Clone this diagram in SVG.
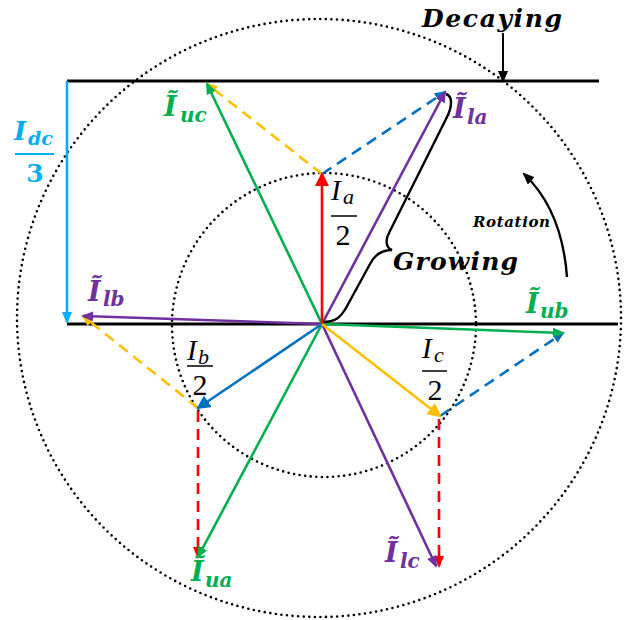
<svg xmlns="http://www.w3.org/2000/svg" width="625" height="620" viewBox="0 0 625 620">
<style>
.dot{fill:none;stroke:#000;stroke-width:2.6;stroke-dasharray:0 5.6;stroke-linecap:round}
.axis{stroke:#000;stroke-width:3;fill:none}
.v{fill:none;stroke-width:2.6}
.d{fill:none;stroke-width:2.6;stroke-dasharray:11 7}
.g{stroke:#00B050}.p{stroke:#7030A0}.b{stroke:#0070C0}.y{stroke:#FFC000}.r{stroke:#FF0000}.c{stroke:#00B0F0}.k{stroke:#000}
.lbl{font-family:"DejaVu Serif",serif;font-weight:bold;font-style:italic}
.big{font-size:27px}.sub{font-size:20px}
.m{font-family:"Liberation Serif",serif;font-style:italic;fill:#000}
.num{font-family:"Liberation Serif",serif;fill:#000;font-size:30px;text-anchor:middle}
.word{font-family:"DejaVu Serif",serif;font-weight:bold;font-style:italic;fill:#000}
</style>
<defs>
<marker id="hR" markerUnits="userSpaceOnUse" markerWidth="16" markerHeight="16" refX="12" refY="7" orient="auto"><path d="M0,0 L14,7 L0,14 z" fill="#FF0000"/></marker>
<marker id="hB" markerUnits="userSpaceOnUse" markerWidth="16" markerHeight="16" refX="12" refY="7" orient="auto"><path d="M0,0 L14,7 L0,14 z" fill="#0070C0"/></marker>
<marker id="hY" markerUnits="userSpaceOnUse" markerWidth="16" markerHeight="16" refX="12" refY="7" orient="auto"><path d="M0,0 L14,7 L0,14 z" fill="#FFC000"/></marker>
<marker id="sG" markerUnits="userSpaceOnUse" markerWidth="14" markerHeight="12" refX="10" refY="5" orient="auto"><path d="M0,0 L12,5 L0,10 z" fill="#00B050"/></marker>
<marker id="sP" markerUnits="userSpaceOnUse" markerWidth="14" markerHeight="12" refX="10" refY="5" orient="auto"><path d="M0,0 L12,5 L0,10 z" fill="#7030A0"/></marker>
<marker id="sB" markerUnits="userSpaceOnUse" markerWidth="14" markerHeight="12" refX="10" refY="5" orient="auto"><path d="M0,0 L12,5 L0,10 z" fill="#0070C0"/></marker>
<marker id="sR" markerUnits="userSpaceOnUse" markerWidth="14" markerHeight="12" refX="10" refY="5" orient="auto"><path d="M0,0 L12,5 L0,10 z" fill="#FF0000"/></marker>
<marker id="sY" markerUnits="userSpaceOnUse" markerWidth="14" markerHeight="12" refX="10" refY="5" orient="auto"><path d="M0,0 L12,5 L0,10 z" fill="#FFC000"/></marker>
<marker id="sC" markerUnits="userSpaceOnUse" markerWidth="14" markerHeight="12" refX="10" refY="5" orient="auto"><path d="M0,0 L12,5 L0,10 z" fill="#00B0F0"/></marker>
<marker id="sK" markerUnits="userSpaceOnUse" markerWidth="14" markerHeight="12" refX="10" refY="5" orient="auto"><path d="M0,0 L12,5 L0,10 z" fill="#000"/></marker>
</defs>
<rect width="625" height="620" fill="#fff"/>

<g id="circles">
<ellipse class="dot" cx="319" cy="318" rx="302" ry="299"/>
<circle class="dot" cx="324" cy="325" r="152"/>
</g>

<g id="axes">
<line class="axis" x1="67" y1="81" x2="599" y2="81"/>
<line class="axis" x1="67" y1="324" x2="618" y2="324"/>
</g>

<g id="connectors">
<line class="d y" x1="322" y1="174" x2="207" y2="84" marker-end="url(#sY)"/>
<line class="d b" x1="322" y1="174" x2="445" y2="92" marker-end="url(#sB)"/>
<line class="d y" x1="198" y1="408" x2="83" y2="316" marker-end="url(#sY)"/>
<line class="d r" x1="198" y1="411" x2="198" y2="557" marker-end="url(#sR)"/>
<line class="d b" x1="440" y1="416" x2="563" y2="333" marker-end="url(#sB)"/>
<line class="d r" x1="439" y1="419" x2="439" y2="566" marker-end="url(#sR)"/>
<line class="v c" x1="67" y1="81" x2="67" y2="322" marker-end="url(#sC)"/>
<line class="v g" x1="322" y1="324" x2="207" y2="84" marker-end="url(#sG)"/>
<line class="v p" x1="322" y1="324" x2="445" y2="92" marker-end="url(#sP)"/>
<line class="v p" x1="322" y1="324" x2="83" y2="316" marker-end="url(#sP)"/>
<line class="v g" x1="322" y1="324" x2="563" y2="333" marker-end="url(#sG)"/>
<line class="v g" x1="322" y1="324" x2="198" y2="557" marker-end="url(#sG)"/>
<line class="v p" x1="322" y1="324" x2="436" y2="566" marker-end="url(#sP)"/>
<line class="v r" x1="322" y1="324" x2="322" y2="174" marker-end="url(#hR)"/>
<line class="v b" x1="322" y1="324" x2="198" y2="408" marker-end="url(#hB)"/>
<line class="v y" x1="322" y1="324" x2="440" y2="416" marker-end="url(#hY)"/>
<path class="k" fill="none" stroke-width="2.4" d="M323,322 C335,322 340,318 346,308 L370,264 C375,254 382,250 392,250 C386,248 385,240 389,233 L447,117 C452,107 453,96 446,94"/>
<line class="k" stroke-width="2" x1="503" y1="33" x2="503" y2="81" marker-end="url(#sK)"/>
<path class="k" fill="none" stroke-width="2.4" d="M567,277 Q562,210 524,174" marker-end="url(#sK)"/>
</g>

<g id="label-Iuc" class="lbl" fill="#00B050"><text class="big" x="164" y="116">Ĩ</text><text class="sub" x="180" y="122">uc</text></g>
<g id="label-Ila" class="lbl" fill="#7030A0"><text class="big" x="453" y="118">Ĩ</text><text class="sub" x="467" y="124">la</text></g>
<g id="label-Ilb" class="lbl" fill="#7030A0"><text class="big" x="88" y="301">Ĩ</text><text class="sub" x="103" y="306">lb</text></g>
<g id="label-Iub" class="lbl" fill="#00B050"><text class="big" x="526" y="313">Ĩ</text><text class="sub" x="540" y="318">ub</text></g>
<g id="label-Iua" class="lbl" fill="#00B050"><text class="big" x="191" y="581">Ĩ</text><text class="sub" x="205" y="587">ua</text></g>
<g id="label-Ilc" class="lbl" fill="#7030A0"><text class="big" x="385" y="562">Ĩ</text><text class="sub" x="400" y="568">lc</text></g>

<g id="label-Idc" class="lbl" fill="#00B0F0">
<text x="14" y="140" font-size="26">I</text><text x="28" y="145" font-size="19">dc</text>
<line x1="15" y1="154" x2="54" y2="154" stroke="#00B0F0" stroke-width="2"/>
<text x="35" y="182" font-size="25" font-style="normal" text-anchor="middle">3</text>
</g>

<g id="label-Ia">
<text class="m" x="331" y="200" font-size="29">I</text><text class="m" x="343" y="204" font-size="22">a</text>
<line x1="331" y1="216" x2="357" y2="216" stroke="#000" stroke-width="1.5"/>
<text class="num" x="343" y="245">2</text>
</g>
<g id="label-Ib">
<text class="m" x="187" y="360" font-size="29">I</text><text class="m" x="198" y="364" font-size="22">b</text>
<line x1="187" y1="366" x2="213" y2="366" stroke="#000" stroke-width="1.5"/>
<text class="num" x="200" y="395">2</text>
</g>
<g id="label-Ic">
<text class="m" x="422" y="358" font-size="29">I</text><text class="m" x="434" y="362" font-size="22">c</text>
<line x1="422" y1="371" x2="447" y2="371" stroke="#000" stroke-width="1.5"/>
<text class="num" x="435" y="400">2</text>
</g>

<g id="label-decaying"><text class="word" x="422" y="27" font-size="25" textLength="140" lengthAdjust="spacing">Decaying</text></g>
<g id="label-growing"><text class="word" x="393" y="270" font-size="25" textLength="125" lengthAdjust="spacing">Growing</text></g>
<g id="label-rotation"><text class="word" x="473" y="227" font-size="15" textLength="77" lengthAdjust="spacing">Rotation</text></g>
</svg>
